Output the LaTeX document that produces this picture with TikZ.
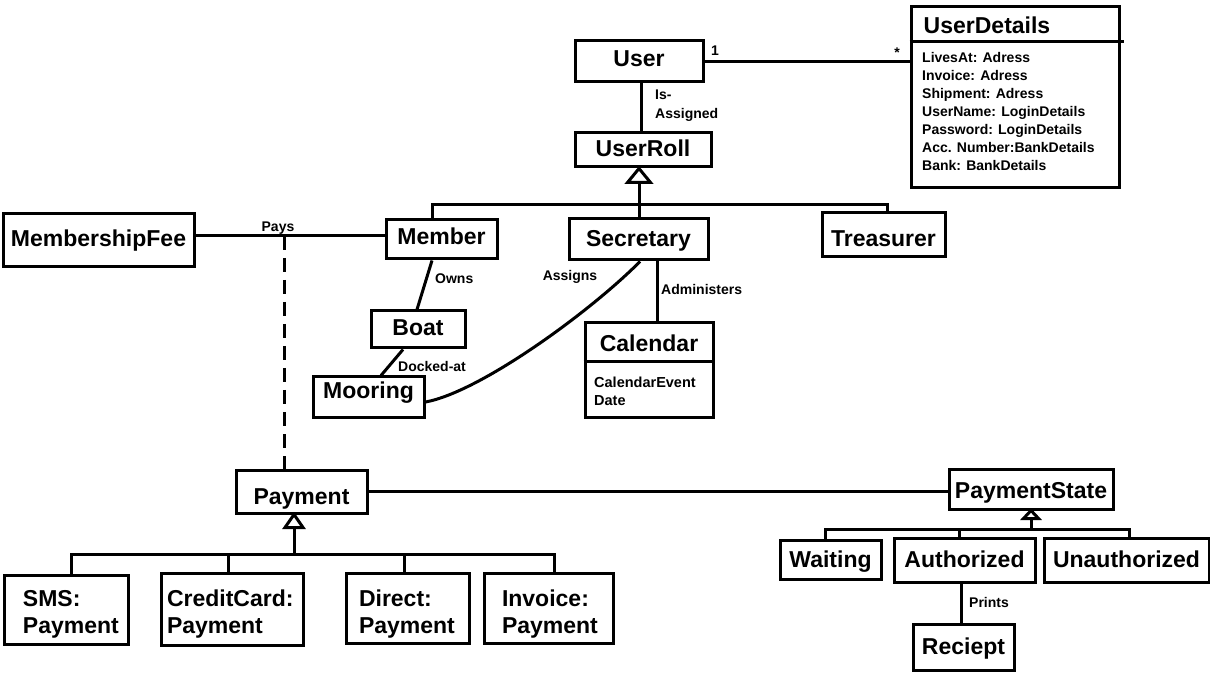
\documentclass[tikz,border=0pt]{standalone}
\usepackage{fontspec}
\setmainfont{Liberation Sans}
\newcommand\BigLbl{\fontsize{23}{27}\selectfont\bfseries}
\newcommand\SmallLbl{\fontsize{14}{18}\selectfont\bfseries}
\tikzset{
  box/.style={draw, line width=3pt, rectangle, inner sep=0pt, font=\BigLbl, align=center},
  subbox/.style n args={2}{box, align=left, inner xsep=#1, text width=#2},
  th/.style={text height=#1, text depth=0pt},
  td/.style={text height=0pt, text depth=#1},
  lbl/.style={font=\SmallLbl, inner sep=0pt},
  conn/.style={line width=3pt},
  gentri/.style={line width=3pt, fill=white, line join=miter},
}
\begin{document}
\begin{tikzpicture}[x=1pt,y=-1pt]
\path[use as bounding box, fill=white] (0,0) rectangle (1210,692);

% ---------- nodes ----------
\node[box, th=9.4pt, minimum width=128pt, minimum height=41pt] (user) at (639,61.5) {User};
\node[box, th=13.8pt, minimum width=136pt, minimum height=34pt] (userroll) at (643,150) {UserRoll};
\node[box, minimum width=208pt, minimum height=181pt] (ud) at (1015,97.5) {};
\node[font=\BigLbl, inner sep=0pt] (udt) at (987,25) {UserDetails};
\node[lbl, anchor=north west, align=left] (uda) at (922,52) {LivesAt: Adress\\Invoice: Adress\\Shipment: Adress\\UserName: LoginDetails\\Password: LoginDetails\\Acc. Number:BankDetails\\Bank: BankDetails};

\node[box, th=11.4pt, minimum width=191pt, minimum height=53pt] (mf) at (98.5,240.5) {MembershipFee};
\node[box, th=10.4pt, minimum width=111pt, minimum height=39pt] (member) at (441.5,239.5) {Member};
\node[box, th=13.4pt, minimum width=139pt, minimum height=41pt] (secretary) at (638.5,239.5) {Secretary};
\node[box, th=22.4pt, minimum width=123pt, minimum height=44pt] (treasurer) at (883.5,235) {Treasurer};
\node[box, th=11.4pt, minimum width=94pt, minimum height=37pt] (boat) at (418,329.5) {Boat};
\node[box, th=2.4pt, minimum width=111pt, minimum height=40pt] (mooring) at (368.5,397) {Mooring};
\node[box, minimum width=128pt, minimum height=94pt] (cal) at (649,370) {};
\node[font=\BigLbl, inner sep=0pt] (calt) at (649,343) {Calendar};
\node[lbl, anchor=north west, align=left, font=\fontsize{14.5}{18}\selectfont\bfseries] (cala) at (594,376.5) {CalendarEvent\\Date};

\node[box, th=25.4pt, minimum width=131pt, minimum height=43pt] (payment) at (301.5,491.5) {Payment};
\node[box, th=18.4pt, minimum width=164pt, minimum height=40pt] (ps) at (1031,489) {PaymentState};

\node[subbox={19pt}{86pt}, td=6.6pt, minimum height=69pt] (sms) at (66,609.5) {SMS:\\Payment};
\node[subbox={6pt}{130pt}, td=5.6pt, minimum height=72pt] (cc) at (232,609) {CreditCard:\\Payment};
\node[subbox={13pt}{97pt}, td=3.6pt, minimum height=70pt] (direct) at (407.5,608) {Direct:\\Payment};
\node[subbox={18pt}{93pt}, td=3.6pt, minimum height=70pt] (invoice) at (548.5,608) {Invoice:\\Payment};

\node[box, th=15.4pt, minimum width=101pt, minimum height=39pt] (waiting) at (830.5,559.5) {Waiting};
\node[box, th=14.4pt, minimum width=141pt, minimum height=44pt] (authorized) at (964.5,560) {Authorized};
\node[box, th=14.4pt, minimum width=165pt, minimum height=44pt] (unauthorized) at (1126.5,560) {Unauthorized};
\node[box, th=14.4pt, minimum width=101pt, minimum height=46pt] (reciept) at (963.5,647) {Reciept};

% ---------- compartment dividers ----------
\draw[conn] ([yshift=-36pt]ud.north west) -- ([xshift=3pt,yshift=-36pt]ud.north east);
\draw[conn] ([yshift=-40pt]cal.north west) -- ([yshift=-40pt]cal.north east);

% ---------- labels ----------
\node[lbl] (one) at (715,51) {1};
\node[lbl] (star) at (897,53) {*};
\node[lbl, anchor=north west, align=left, font=\fontsize{14}{19}\selectfont\bfseries] (isas) at (655,89.5) {Is-\\Assigned};
\node[lbl] (pays) at (278,228) {Pays};
\node[lbl, anchor=west] (owns) at (435,279) {Owns};
\node[lbl, anchor=west] (docked) at (398,366) {Docked-at};
\node[lbl] (assigns) at (570,277) {Assigns};
\node[lbl, anchor=west] (admin) at (661,289) {Administers};
\node[lbl, anchor=west] (prints) at (969,602) {Prints};

% ---------- coordinates ----------
\coordinate (ia) at (641,100);
\coordinate (g1) at (639,205);
\coordinate (gm) at (432,205);
\coordinate (gt) at (887,205);
\coordinate (pm) at (284,236);
\coordinate (ad) at (657,290);
\coordinate (p0) at (294,554);
\coordinate (pa) at (71,554);
\coordinate (pb) at (228,554);
\coordinate (pc) at (404,554);
\coordinate (pd) at (554,554);
\coordinate (s0) at (1031,529);
\coordinate (sw) at (825,529);
\coordinate (sa) at (959,529);
\coordinate (su) at (1129,529);
\coordinate (pr) at (961,600);

% ---------- connectors ----------
\draw[conn] (user.east) -- (user.east -| ud.west);
\draw[conn] (ia |- user.south) -- (ia |- userroll.north);

% UserRoll generalisation
\draw[conn] (g1) -- ++(0,-24);
\draw[gentri] (g1 |- userroll.south) -- ++(11.5,14) -- ++(-23,0) -- cycle;
\draw[conn] (gm |- member.north) -- (gm) -- (gt) -- (gt |- treasurer.north);
\draw[conn] (g1) -- (g1 |- secretary.north);

% Pays
\draw[conn] (pm -| mf.east) -- (pm -| member.west);
\draw[conn, dash pattern=on 14pt off 8pt] (pm) -- (pm |- payment.north);

% Member / Boat / Mooring
\draw[conn] ([xshift=-9.5pt]member.south) -- ([xshift=-1pt]boat.north);
\draw[conn] ([xshift=-15pt]boat.south) -- ([xshift=12.5pt]mooring.north);
\draw[conn] ([yshift=-5pt]mooring.east) .. controls (480,392) and (590,312) .. ([xshift=1.5pt]secretary.south);
\draw[conn] (ad |- secretary.south) -- (ad |- cal.north);

% Payment
\draw[conn] (payment.east) -- (payment.east -| ps.west);
\draw[conn] (p0) -- ++(0,-27);
\draw[gentri] (p0 |- payment.south) -- ++(9,13) -- ++(-18,0) -- cycle;
\draw[conn] (pa |- sms.north) -- (pa) -- (pd) -- (pd |- invoice.north);
\draw[conn] (pb) -- (pb |- cc.north);
\draw[conn] (pc) -- (pc |- direct.north);

% PaymentState
\draw[conn] (s0) -- ++(0,-12);
\draw[gentri] (s0 |- ps.south) -- ++(7.5,8) -- ++(-15,0) -- cycle;
\draw[conn] (sw |- waiting.north) -- (sw) -- (su) -- (su |- unauthorized.north);
\draw[conn] (sa) -- (sa |- authorized.north);
\draw[conn] (pr |- authorized.south) -- (pr |- reciept.north);
\end{tikzpicture}
\end{document}
